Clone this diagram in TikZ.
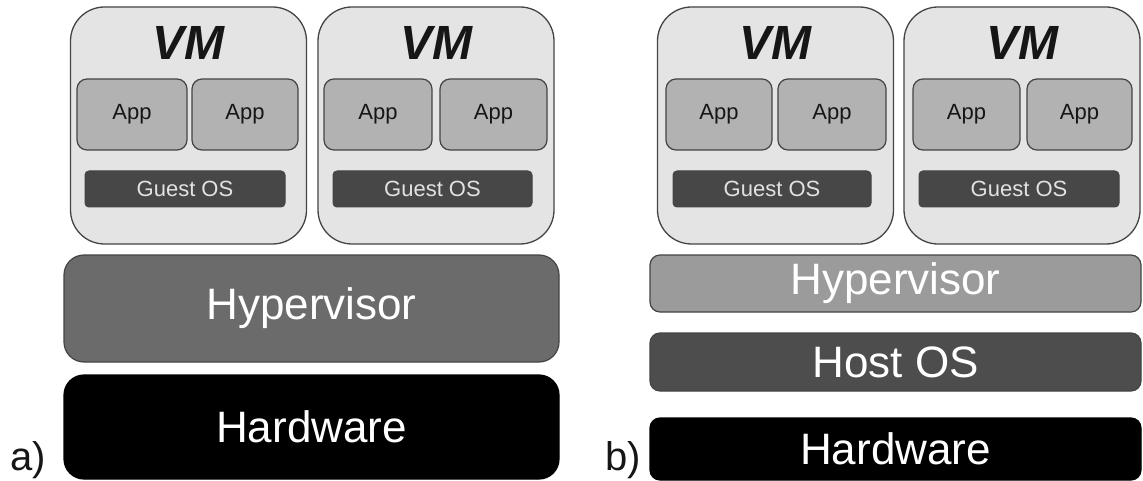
\documentclass[tikz,border=0pt]{standalone}
\usepackage{fontspec}
\setmainfont{Liberation Sans}
\definecolor{vmfill}{HTML}{E4E4E4}
\definecolor{appfill}{HTML}{B2B2B2}
\definecolor{guestfill}{HTML}{474747}
\definecolor{guesttext}{HTML}{E2E2E2}
\definecolor{hypA}{HTML}{6B6B6B}
\definecolor{hypB}{HTML}{9B9B9B}
\definecolor{hostfill}{HTML}{4D4D4D}
\definecolor{edge}{HTML}{444444}
\definecolor{inktext}{HTML}{161616}
\begin{document}
\begin{tikzpicture}[x=1pt,y=-1pt,
  vmbox/.style={draw=edge, line width=1.3pt, fill=vmfill, rounded corners=34pt, inner sep=0pt, minimum width=236pt, minimum height=237pt},
  vmlabel/.style={font=\fontsize{48}{50}\selectfont\bfseries\itshape, text=inktext, inner sep=0pt},
  appbox/.style={draw=edge, line width=1.2pt, fill=appfill, rounded corners=10pt, inner sep=0pt, minimum height=71pt, font=\fontsize{22}{24}\selectfont, text=inktext},
  guestbox/.style={draw=edge, line width=1pt, fill=guestfill, rounded corners=4pt, inner sep=0pt, minimum height=36pt, font=\fontsize{22}{24}\selectfont, text=guesttext},
  layer/.style={draw=edge, line width=1.2pt, inner sep=0pt, font=\fontsize{44}{48}\selectfont, text=white},
  tag/.style={font=\fontsize{40}{44}\selectfont, text=inktext, inner sep=0pt, anchor=base west}
]
\useasboundingbox (0,0) rectangle (1143,481);

% ---------- a) ----------
\node[vmbox] (vm1) at (188.5,125.5) {};
\node[vmbox] (vm2) at (436,125.5) {};
\node[vmlabel] (vm1l) at (188.5,43) {VM};
\node[vmlabel] (vm2l) at (436,43) {VM};
\node[appbox, minimum width=110pt] (a11) at (132,114.5) {App};
\node[appbox, minimum width=106pt] (a12) at (245,114.5) {App};
\node[appbox, minimum width=108pt] (a21) at (378,114.5) {App};
\node[appbox, minimum width=107pt] (a22) at (493.5,114.5) {App};
\node[guestbox, minimum width=200pt] (g1) at (185,189) {Guest OS};
\node[guestbox, minimum width=199pt] (g2) at (432.5,189) {Guest OS};
\node[layer, fill=hypA, rounded corners=20pt, minimum width=495pt, minimum height=107pt] (hypa) at (311.5,308.5) {Hypervisor};
\node[layer, draw=black, fill=black, rounded corners=20pt, minimum width=495pt, minimum height=104pt] (hwa) at (311.5,427) {Hardware};
\node[tag] (ta) at (10,470) {a)};

% ---------- b) ----------
\node[vmbox] (vm3) at (775.5,125.5) {};
\node[vmbox] (vm4) at (1022,125.5) {};
\node[vmlabel] (vm3l) at (775.5,43) {VM};
\node[vmlabel] (vm4l) at (1022,43) {VM};
\node[appbox, minimum width=106pt] (a31) at (719,114.5) {App};
\node[appbox, minimum width=108pt] (a32) at (832,114.5) {App};
\node[appbox, minimum width=107pt] (a41) at (966.5,114.5) {App};
\node[appbox, minimum width=105pt] (a42) at (1079.5,114.5) {App};
\node[guestbox, minimum width=198pt] (g3) at (772,189) {Guest OS};
\node[guestbox, minimum width=200pt] (g4) at (1019,189) {Guest OS};
\node[layer, fill=hypB, rounded corners=10pt, minimum width=491pt, minimum height=57pt] (hypb) at (895.5,283.5) {Hypervisor};
\node[layer, fill=hostfill, rounded corners=10pt, minimum width=491pt, minimum height=58pt] (host) at (895.5,362) {Host OS};
\node[layer, draw=black, fill=black, rounded corners=10pt, minimum width=491pt, minimum height=62pt] (hwb) at (895.5,449) {Hardware};
\node[tag] (tb) at (605,470) {b)};
\end{tikzpicture}
\end{document}
